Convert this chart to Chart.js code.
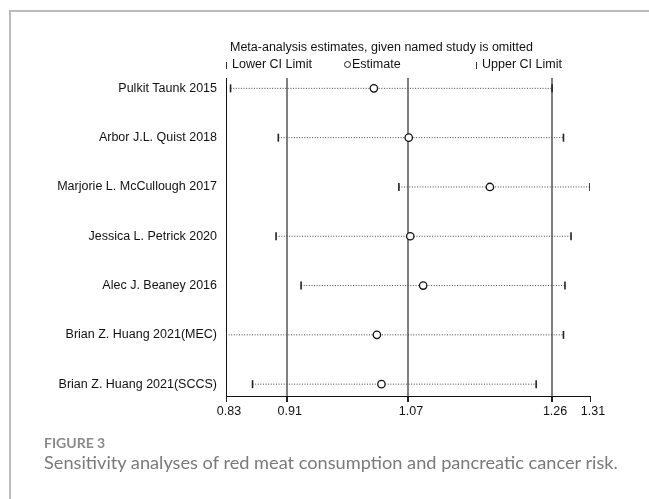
<!DOCTYPE html>
<html>
<head>
<meta charset="utf-8">
<script src="https://cdn.jsdelivr.net/npm/chart.js@4.4.1/dist/chart.umd.min.js"></script>
<style>
  html, body { margin: 0; padding: 0; background: #fff; }
  body { width: 649px; height: 499px; position: relative; overflow: hidden; }
  #card { position: absolute; left: 9px; top: 10px; width: 700px; height: 600px;
          border-left: 2px solid #bbb; border-top: 2px solid #bbb; }
  #plot { position: absolute; left: 0; top: 0; }
  .hdr { position: absolute; font: 12.5px "Liberation Sans", Arial, sans-serif; color: #111; white-space: nowrap; }
  .bar { display: inline-block; width: 1px; height: 7px; background: #333; margin-right: 5px; vertical-align: -1px; }
  .ring { display: inline-block; width: 5px; height: 5px; border: 1px solid #222; border-radius: 50%; margin-right: 1px; vertical-align: 0px; }
  #figlabel { position: absolute; left: 44px; top: 434px; font: 700 14px Lato, sans-serif; color: #8a8a8a; }
  #caption { position: absolute; left: 44px; top: 451px; font: 400 18.2px Lato, sans-serif; color: #7a7a7a; white-space: nowrap; }
</style>
</head>
<body>
<div id="card"></div>
<canvas id="plot" width="649" height="499"></canvas>
<div class="hdr" style="left:230px; top:40px;">Meta-analysis estimates, given named study is omitted</div>
<div class="hdr" style="left:226px; top:57px;"><span class="bar"></span>Lower CI Limit</div>
<div class="hdr" style="left:344px; top:57px;"><span class="ring"></span>Estimate</div>
<div class="hdr" style="left:476px; top:57px;"><span class="bar"></span>Upper CI Limit</div>
<div id="figlabel">FIGURE 3</div>
<div id="caption">Sensitivity analyses of red meat consumption and pancreatic cancer risk.</div>
<script>
// Study omitted in each leave-one-out run
const studies = [
  'Pulkit Taunk 2015',
  'Arbor J.L. Quist 2018',
  'Marjorie L. McCullough 2017',
  'Jessica L. Petrick 2020',
  'Alec J. Beaney 2016',
  'Brian Z. Huang 2021(MEC)',
  'Brian Z. Huang 2021(SCCS)'
];
// Pooled estimate and 95% CI with that study left out
const estimates = [1.025, 1.071, 1.178, 1.073, 1.090, 1.029, 1.035];
const lowerCI   = [0.836, 0.899, 1.058, 0.896, 0.929, 0.830, 0.865];
const upperCI   = [1.260, 1.275, 1.310, 1.285, 1.277, 1.275, 1.239];

// Axis ticks: min lower limit, overall lower CI, overall estimate, overall upper CI, max upper limit
const tickValues = [0.83, 0.91, 1.07, 1.26, 1.31];
const tickLabels = ['0.83', '0.91', '1.07', '1.26', '1.31'];
// Overall-estimate reference lines
const refLines = [0.91, 1.07, 1.26];

const rowIndex = studies.map((_, i) => i + 1);
const labelFont = { family: '"Liberation Sans", Arial, sans-serif', size: 12.5 };

const ciLines = studies.map((name, i) => ({
  label: name,
  data: [{ x: lowerCI[i], y: rowIndex[i] }, { x: upperCI[i], y: rowIndex[i] }],
  showLine: true,
  borderColor: '#444',
  borderWidth: 1,
  borderDash: [1, 1.6],
  pointRadius: 0,
  order: 3
}));

const capStyle = {
  pointStyle: 'line',
  rotation: 90,
  pointRadius: 4,
  pointBorderWidth: 1.6,
  pointBorderColor: '#222',
  order: 1
};

const datasets = [
  {
    label: 'Estimate',
    data: estimates.map((v, i) => ({ x: v, y: rowIndex[i] })),
    pointStyle: 'circle',
    pointRadius: 3.7,
    pointBorderWidth: 1.3,
    pointBorderColor: '#111',
    pointBackgroundColor: '#fff',
    order: 0
  },
  { label: 'Lower CI Limit', data: lowerCI.map((v, i) => ({ x: v, y: rowIndex[i] })), ...capStyle },
  { label: 'Upper CI Limit', data: upperCI.map((v, i) => ({ x: v, y: rowIndex[i] })), ...capStyle },
  ...ciLines
];

const isRef = v => refLines.some(r => Math.abs(r - v) < 1e-9);

new Chart(document.getElementById('plot'), {
  type: 'scatter',
  data: { datasets },
  options: {
    responsive: false,
    animation: false,
    events: [],
    layout: { padding: { left: 0, top: 78, right: 59, bottom: 73 } },
    plugins: { legend: { display: false }, tooltip: { enabled: false } },
    scales: {
      x: {
        type: 'linear',
        min: 0.83,
        max: 1.31,
        afterBuildTicks: s => { s.ticks = tickValues.map(v => ({ value: v })); },
        afterFit: s => { s.height = 30; },
        ticks: {
          callback: (v, i) => tickLabels[i],
          color: '#111',
          font: labelFont,
          padding: 2,
          labelOffset: 3,
          maxRotation: 0,
          autoSkip: false
        },
        grid: {
          drawOnChartArea: true,
          color: c => (c.tick && isRef(c.tick.value)) ? '#808080' : 'rgba(0,0,0,0)',
          lineWidth: c => (c.tick && isRef(c.tick.value)) ? 2 : 1,
          tickColor: '#222',
          tickLength: 6,
          tickWidth: c => (c.tick && isRef(c.tick.value)) ? 2 : 1
        },
        border: { display: true, color: '#111', width: 1 }
      },
      y: {
        type: 'linear',
        reverse: true,
        min: 0.79,
        max: 7.24,
        afterBuildTicks: s => { s.ticks = rowIndex.map(v => ({ value: v })); },
        afterFit: s => { s.width = 226; },
        ticks: {
          callback: (v, i) => studies[i],
          color: '#111',
          font: labelFont,
          padding: 9,
          autoSkip: false
        },
        grid: { display: false, drawTicks: false },
        border: { display: true, color: '#111', width: 1 }
      }
    }
  }
});
</script>
</body>
</html>
